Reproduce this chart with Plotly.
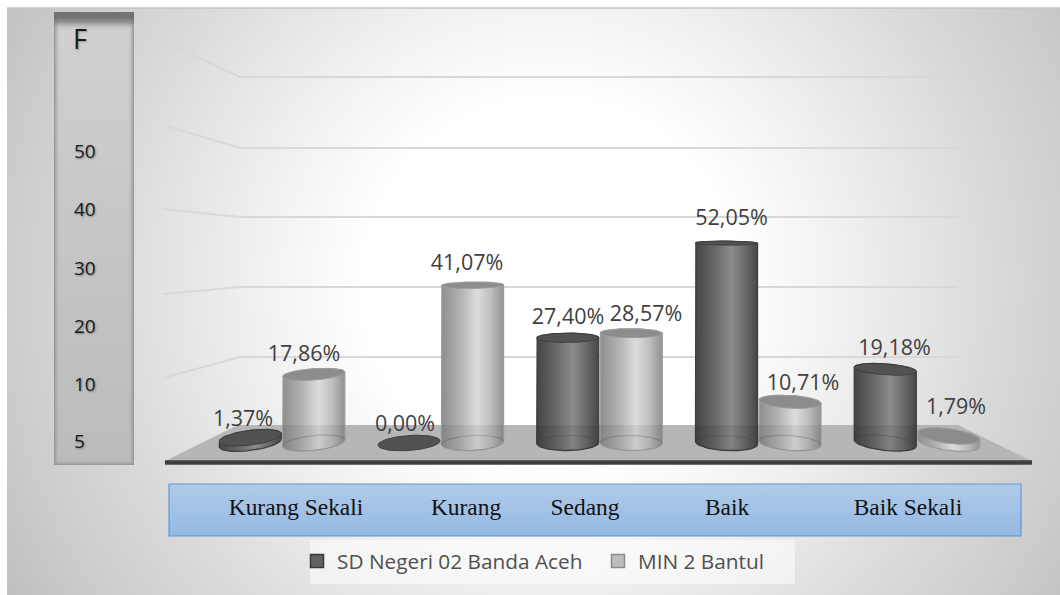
import numpy as np
import plotly.graph_objects as go

# ---------- data ----------
categories = ["Kurang Sekali", "Kurang", "Sedang", "Baik", "Baik Sekali"]
series_names = ["SD Negeri 02 Banda Aceh", "MIN 2 Bantul"]
sd_values = [1.37, 0.00, 27.40, 52.05, 19.18]
min_values = [17.86, 41.07, 28.57, 10.71, 1.79]
sd_labels = ["1,37%", "0,00%", "27,40%", "52,05%", "19,18%"]
min_labels = ["17,86%", "41,07%", "28,57%", "10,71%", "1,79%"]
axis_title = "F"
axis_tick_labels = ["50", "40", "30", "20", "10", "5"]

# ---------- layout scale (pixel <-> axis) ----------
W, H = 1060, 595
L, R, T, B = 7, 1060, 8, 595
PX_X0, PX_DX = 282.0, 158.75      # category 0 centre, px per category
PX_Y0, PX_DY = 443.0, 3.84        # value 0 baseline, px per percent


def X(px):
    return (np.asarray(px, float) - PX_X0) / PX_DX


def Y(py):
    return (PX_Y0 - np.asarray(py, float)) / PX_DY


traces = []


def poly(xs, ys, fill=None, grad=None, line=None, lw=0):
    traces.append(go.Scatter(
        x=list(xs), y=list(ys), mode="lines" if lw else "none",
        fill="toself" if (fill or grad) else "none",
        fillcolor=fill, fillgradient=grad,
        line=dict(color=line or "rgba(0,0,0,0)", width=lw or 0),
        hoverinfo="skip", showlegend=False))


def rect(x0, y0, x1, y1, **kw):
    poly(X([x0, x1, x1, x0, x0]), Y([y0, y0, y1, y1, y0]), **kw)


def line(pxs, pys, color, width):
    traces.append(go.Scatter(x=list(X(pxs)), y=list(Y(pys)), mode="lines",
                             line=dict(color=color, width=width),
                             hoverinfo="skip", showlegend=False))


def hgrad(stops):
    return dict(type="horizontal", colorscale=stops)


def vgrad(stops):
    return dict(type="vertical", colorscale=stops)


# ---------- chart background ----------
cx, cy, rad = 550, 285, 690
rect(cx - rad, cy - rad, cx + rad, cy + rad, grad=dict(type="radial", colorscale=[
    [0, "#ffffff"], [0.27, "#ffffff"], [0.45, "#eeeeee"], [0.65, "#d9d9d9"],
    [0.8, "#cbcbcb"], [0.9, "#c0c0c0"], [1, "#bcbcbc"]]))

# ---------- axis panel ----------
rect(54, 12, 134, 465, grad=vgrad([[0, "#bbbbbb"], [0.97, "#d0d0d0"], [1, "#d2d2d2"]]))
rect(54, 12, 60, 465, grad=hgrad([[0, "rgba(140,140,140,0.9)"], [1, "rgba(190,190,190,0)"]]))
rect(128, 12, 134, 465, grad=hgrad([[0, "rgba(190,190,190,0)"], [1, "rgba(140,140,140,0.9)"]]))
rect(54, 459, 134, 465, grad=vgrad([[0, "rgba(140,140,140,0.8)"], [1, "rgba(190,190,190,0)"]]))
rect(54, 12, 134, 30, grad=vgrad([[0, "rgba(190,190,190,0)"], [0.4, "rgba(115,115,115,0.6)"],
                                  [0.7, "rgba(105,105,105,0.9)"], [1, "rgba(110,110,110,0.95)"]]))

# ---------- 3D walls / floor ----------
grid_back_py = [77, 148, 217, 287, 357]
grid_side_py = [41, 125, 209, 294, 378]
for gb, gs in zip(grid_back_py, grid_side_py):
    line([163, 240, 958], [gs, gb, gb], "#d8d8d8", 2)
poly(X([238, 958, 1034, 163, 238]), Y([425, 425, 462, 462, 425]), fill="#b6b6b6")
line([165, 1032], [462.5, 462.5], "#404040", 4.5)

# ---------- cylinders ----------
STY = {
    0: dict(body=[[0, "#454545"], [0.3, "#666666"], [0.58, "#8c8c8c"], [0.8, "#6a6a6a"], [1, "#474747"]],
            top="#525252", edge="#3e3e3e"),
    1: dict(body=[[0, "#8e8e8e"], [0.3, "#b2b2b2"], [0.58, "#dcdcdc"], [0.8, "#bdbdbd"], [1, "#929292"]],
            top="#8c8c8c", edge="#9c9c9c"),
}
HALF_W = 31 / PX_DX
OFFSET = 0.2
T_FRONT = np.linspace(0, np.pi, 40)
T_BACK = np.linspace(np.pi, 2 * np.pi, 40)


def ell(xc, val, t):
    px_c = PX_X0 + PX_DX * xc
    ry = max(7.5 - 0.105 * val, 1.8)
    tilt = (px_c - 600) / 285 * 3.2 * (1 - val / 60)
    return (xc + HALF_W * np.cos(t),
            val - (ry * np.sin(t) + tilt * np.cos(t)) / PX_DY)


def cylinder(xc, val, s):
    st = STY[s]
    if val > 0:
        bx, by = ell(xc, 0, T_FRONT)          # right -> left along front of the base
        tx, ty = ell(xc, val, T_BACK)         # left -> right along back of the top
        xs = np.r_[bx, tx, bx[0]]
        ys = np.r_[by, ty, by[0]]
        poly(xs, ys, grad=hgrad(st["body"]), line=st["edge"], lw=1.3)
        floor_v = float(Y(425))
        if val > floor_v:
            fx = np.r_[bx, bx[-1], bx[0], bx[0]]
            fy = np.r_[by, floor_v, floor_v, by[0]]
            poly(fx, fy, fill="rgba(0,0,0,0.07)")
            ax, ay = ell(xc, 0, T_BACK)
            traces.append(go.Scatter(x=list(ax), y=list(ay), mode="lines",
                                     line=dict(color="rgba(50,50,50,0.22)", width=1.2),
                                     hoverinfo="skip", showlegend=False))
    tt = np.linspace(0, 2 * np.pi, 80)
    ex, ey = ell(xc, val, tt)
    poly(ex, ey, fill=st["top"], line=st["edge"], lw=1)


front_first = [False, False, False, True, True]   # draw the light bar first in these groups
for i in range(len(categories)):
    order = [1, 0] if front_first[i] else [0, 1]
    for s in order:
        vals = sd_values if s == 0 else min_values
        cylinder(i + (OFFSET if s else -OFFSET), vals[i], s)

# ---------- data labels ----------
sd_lab_px = [(243, 421), (405, 425.5), (568, 318.5), (731.5, 219.5), (894.5, 349.5)]
min_lab_px = [(304, 355.5), (467, 264.5), (646, 315.5), (803, 384.5), (956, 408.5)]
for pos, labs in ((sd_lab_px, sd_labels), (min_lab_px, min_labels)):
    traces.append(go.Scatter(
        x=[float(X(p[0])) for p in pos], y=[float(Y(p[1])) for p in pos],
        mode="text", text=labs, textposition="middle center",
        textfont=dict(family="Open Sans", size=21.5, color="#404040"),
        hoverinfo="skip", showlegend=False))

# ---------- category band ----------
rect(169, 484, 1021, 536, grad=vgrad([[0, "#94b8e3"], [1, "#b0cbe9"]]), line="#5b9bd5", lw=1.2)
cat_px = [296, 466, 585, 727, 908]
traces.append(go.Scatter(
    x=[float(X(p)) for p in cat_px], y=[float(Y(509))] * len(cat_px),
    mode="text", text=categories, textposition="middle center",
    textfont=dict(family="Liberation Serif", size=23.4, color="#111111"),
    hoverinfo="skip", showlegend=False))

# ---------- axis panel labels ----------
tick_py = [153, 211, 270, 328, 386, 443]
traces.append(go.Scatter(
    x=[float(X(74))] * len(tick_py), y=[float(Y(p)) for p in tick_py],
    mode="text", text=axis_tick_labels, textposition="middle right",
    textfont=dict(family="Open Sans", size=19, color="#1a1a1a",
                  shadow="1px 1px 2px rgba(0,0,0,0.35)"),
    hoverinfo="skip", showlegend=False))
traces.append(go.Scatter(
    x=[float(X(73))], y=[float(Y(42))],
    mode="text", text=[axis_title], textposition="middle right",
    textfont=dict(family="Open Sans", size=27, color="#1a1a1a",
                  shadow="1px 1px 2px rgba(0,0,0,0.3)"),
    hoverinfo="skip", showlegend=False))

# ---------- legend ----------
rect(310, 540, 795, 584, fill="rgba(255,255,255,0.5)")
traces.append(go.Scatter(x=[None], y=[None], mode="markers", name=series_names[0],
                         marker=dict(symbol="square", size=13, color="#636363",
                                     line=dict(color="#3a3a3a", width=1.5))))
traces.append(go.Scatter(x=[None], y=[None], mode="markers", name=series_names[1],
                         marker=dict(symbol="square", size=13, color="#bdbdbd",
                                     line=dict(color="#8a8a8a", width=1.5))))

fig = go.Figure(traces)
fig.update_layout(
    width=W, height=H, autosize=False,
    margin=dict(l=L, r=W - R, t=T, b=H - B, pad=0),
    paper_bgcolor="#ffffff", plot_bgcolor="#ffffff",
    font=dict(family="Open Sans"),
    xaxis=dict(visible=False, fixedrange=True, range=[float(X(L)), float(X(R))]),
    yaxis=dict(visible=False, fixedrange=True, range=[float(Y(B)), float(Y(T))]),
    legend=dict(orientation="h", x=(297 - L) / (R - L), y=(B - 541) / (B - T),
                xanchor="left", yanchor="top", bgcolor="rgba(0,0,0,0)",
                font=dict(family="Open Sans", size=20.8, color="#505050"),
                itemwidth=30, entrywidth=256, entrywidthmode="pixels", tracegroupgap=0),
    showlegend=True,
    shapes=[dict(type="line", xref="paper", yref="paper", x0=0, y0=1, x1=1, y1=1,
                 line=dict(color="#c4c4c4", width=1.5))],
)
fig.write_html("out.html", config=dict(displayModeBar=False),
               post_script="document.body.style.margin='0';")
